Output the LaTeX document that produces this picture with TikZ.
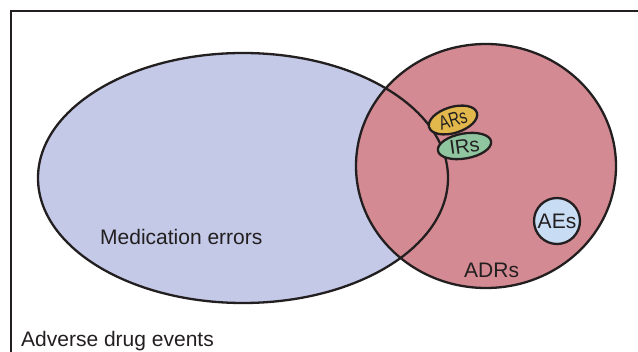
\documentclass[tikz,border=0pt]{standalone}
\usepackage{fontspec}
\setmainfont{Liberation Sans}
\usetikzlibrary{shapes.geometric}
\definecolor{mederr}{HTML}{C3C9E7}
\definecolor{adrfill}{HTML}{D38A92}
\definecolor{arfill}{HTML}{E2B84C}
\definecolor{irfill}{HTML}{8FC6A0}
\definecolor{aefill}{HTML}{C8DDF4}
\definecolor{ink}{HTML}{231F20}
\begin{document}
\begin{tikzpicture}[x=1pt,y=-1pt,
  outline/.style={draw=ink, line width=2.3pt},
  lbl/.style={font=\fontsize{21}{25}\selectfont, text=ink, inner sep=0pt},
  small/.style={ellipse, outline, inner sep=0pt},
  smalltxt/.style={inner sep=0pt, text=ink, font=\fontsize{20}{23}\selectfont}]
\useasboundingbox (0,0) rectangle (638,352);
\coordinate (fb) at (11,360);
\coordinate (fc) at (11,11);
\coordinate (fr) at (645,11);
\draw[outline] (fb) -- (fc) -- (fr);
\coordinate (mec) at (243,178);
\coordinate (adc) at (486,166);
\fill[mederr] (mec) ellipse [x radius=205, y radius=125];
\fill[adrfill] (adc) ellipse [x radius=130, y radius=122];
\draw[outline] (mec) ellipse [x radius=205, y radius=125];
\draw[outline] (adc) ellipse [x radius=130, y radius=122];
\node[small, fill=arfill, minimum width=50, minimum height=26, rotate=17] (ars) at (453,120) {};
\node[smalltxt, rotate=17] (art) at (ars.center) {\scalebox{0.75}[1]{ARs}};
\node[small, fill=irfill, minimum width=54, minimum height=25, rotate=10] (irs) at (464.5,146) {};
\node[smalltxt, rotate=8] (irt) at (irs.center) {IRs};
\node[circle, outline, fill=aefill, minimum size=46, inner sep=0pt] (aes) at (557,221) {};
\node[lbl] (aet) at (aes.center) {AEs};
\node[lbl, anchor=base west] (met) at (100,245) {Medication errors};
\node[lbl, anchor=base west] (adt) at (464,278) {ADRs};
\node[lbl, anchor=base west] (ade) at (21,347) {Adverse drug events};
\end{tikzpicture}
\end{document}
